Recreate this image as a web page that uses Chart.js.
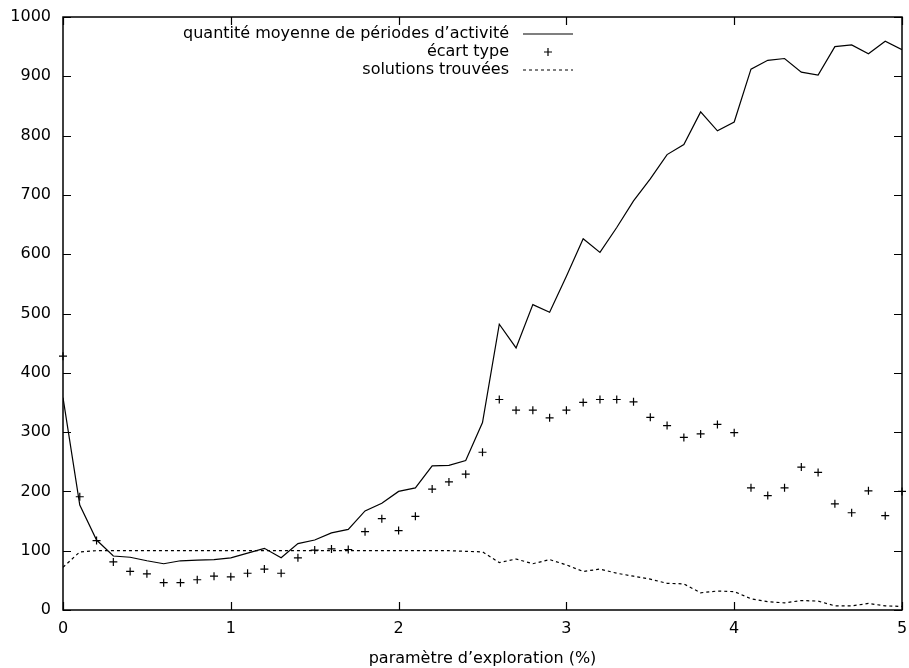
<!DOCTYPE html>
<html>
<head>
<meta charset="utf-8">
<script src="https://cdn.jsdelivr.net/npm/chart.js@4"></script>
<style>
  body { margin: 0; background: #fff; }
  canvas { display: block; }
</style>
</head>
<body>
<canvas id="chart" width="909" height="668"></canvas>
<script>
// === Data ===
const xValues = [
    0, 0.1, 0.2, 0.3, 0.4, 0.5, 0.6, 0.7, 0.8, 0.9,
    1, 1.1, 1.2, 1.3, 1.4, 1.5, 1.6, 1.7, 1.8, 1.9,
    2, 2.1, 2.2, 2.3, 2.4, 2.5, 2.6, 2.7, 2.8, 2.9,
    3, 3.1, 3.2, 3.3, 3.4, 3.5, 3.6, 3.7, 3.8, 3.9,
    4, 4.1, 4.2, 4.3, 4.4, 4.5, 4.6, 4.7, 4.8, 4.9, 5
];
const moyenneValues = [
    358, 177, 118, 91, 89, 83, 78, 83, 84, 85,
    88, 96, 104, 88, 112, 118, 130, 136, 167, 180,
    200, 206, 243, 244, 252, 316, 482, 442, 515, 502,
    563, 626, 603, 645, 690, 727, 768, 785, 840, 808,
    823, 912, 927, 930, 907, 902, 950, 953, 938, 959, 945
];
const ecartValues = [
    428, 191, 117, 81, 65, 61, 46, 46, 51, 57,
    56, 62, 69, 62, 88, 101, 103, 102, 132, 154,
    134, 158, 204, 216, 229, 266, 355, 337, 337, 324,
    337, 350, 355, 355, 351, 325, 311, 291, 297, 313,
    299, 206, 193, 206, 241, 232, 179, 164, 201, 159, 200
];
const solutionsValues = [
    72, 98, 100, 100, 100, 100, 100, 100, 100, 100,
    100, 100, 100, 100, 100, 100, 100, 100, 100, 100,
    100, 100, 100, 100, 99, 98, 80, 86, 78, 85,
    76, 65, 69, 62, 57, 52, 45, 44, 29, 32,
    31, 19, 14, 12, 16, 15, 7, 7, 11, 7, 6
];
const xTicks = [0, 1, 2, 3, 4, 5];
const yTicks = [0, 100, 200, 300, 400, 500, 600, 700, 800, 900, 1000];
const seriesLabels = [
    "quantité moyenne de périodes d’activité",
    "écart type",
    "solutions trouvées"
];
const xTitle = "paramètre d’exploration (%)";

const FONT = "DejaVu Sans";
const FONT_SIZE = 16;

function toPoints(values) {
    return values.map((v, i) => ({ x: xValues[i], y: v }));
}

// gnuplot-like frame: box plus inward ticks on all four sides
const framePlugin = {
    id: "frame",
    afterDatasetsDraw(chart) {
        const ctx = chart.ctx;
        const area = chart.chartArea;
        const xs = chart.scales.x;
        const ys = chart.scales.y;
        const len = 8;
        ctx.save();
        ctx.strokeStyle = "#000";
        ctx.lineWidth = 1.5;
        ctx.strokeRect(area.left, area.top, area.right - area.left, area.bottom - area.top);
        ctx.lineWidth = 1.2;
        ctx.beginPath();
        yTicks.forEach(v => {
            const py = Math.round(ys.getPixelForValue(v)) + 0.5;
            ctx.moveTo(area.left, py); ctx.lineTo(area.left + len, py);
            ctx.moveTo(area.right, py); ctx.lineTo(area.right - len, py);
        });
        xTicks.forEach(v => {
            const px = Math.round(xs.getPixelForValue(v)) + 0.5;
            ctx.moveTo(px, area.bottom); ctx.lineTo(px, area.bottom - len);
            ctx.moveTo(px, area.top); ctx.lineTo(px, area.top + len);
        });
        ctx.stroke();
        ctx.restore();
    }
};

// legend in the top area, text right-aligned with sample on the right
const legendPlugin = {
    id: "insideLegend",
    afterDraw(chart) {
        const ctx = chart.ctx;
        const textRight = 509;
        const sampleL = 523;
        const sampleR = 573;
        const rows = [34, 52, 70];
        ctx.save();
        ctx.font = FONT_SIZE + "px '" + FONT + "'";
        ctx.fillStyle = "#000";
        ctx.textAlign = "right";
        ctx.textBaseline = "middle";
        seriesLabels.forEach((t, i) => ctx.fillText(t, textRight, rows[i]));
        ctx.strokeStyle = "#000";
        ctx.lineWidth = 1.2;
        ctx.beginPath();
        ctx.moveTo(sampleL, rows[0]); ctx.lineTo(sampleR, rows[0]);
        ctx.stroke();
        const cx = (sampleL + sampleR) / 2;
        ctx.beginPath();
        ctx.moveTo(cx - 4, rows[1]); ctx.lineTo(cx + 4, rows[1]);
        ctx.moveTo(cx, rows[1] - 4); ctx.lineTo(cx, rows[1] + 4);
        ctx.stroke();
        ctx.setLineDash([3, 3]);
        ctx.beginPath();
        ctx.moveTo(sampleL, rows[2]); ctx.lineTo(sampleR, rows[2]);
        ctx.stroke();
        ctx.restore();
    }
};

new Chart(document.getElementById("chart"), {
    type: "line",
    data: {
        datasets: [
            {
                label: seriesLabels[0],
                data: toPoints(moyenneValues),
                borderColor: "#000",
                borderWidth: 1.2,
                pointRadius: 0,
                tension: 0,
                fill: false
            },
            {
                label: seriesLabels[1],
                data: toPoints(ecartValues),
                showLine: false,
                pointStyle: "cross",
                pointRadius: 4,
                pointBorderWidth: 1.2,
                pointBorderColor: "#000",
                borderColor: "#000",
                clip: false
            },
            {
                label: seriesLabels[2],
                data: toPoints(solutionsValues),
                borderColor: "#000",
                borderWidth: 1.2,
                borderDash: [3, 3],
                pointRadius: 0,
                tension: 0,
                fill: false
            }
        ]
    },
    options: {
        responsive: false,
        animation: false,
        layout: { padding: { top: 17, right: 7, left: 0, bottom: 0 } },
        plugins: {
            legend: { display: false },
            tooltip: { enabled: false }
        },
        scales: {
            x: {
                type: "linear",
                min: 0,
                max: 5,
                grid: { display: false, drawTicks: false },
                border: { display: false },
                afterBuildTicks: s => { s.ticks = xTicks.map(v => ({ value: v })); },
                afterFit: s => {
                    s.height = 58;
                    s.paddingLeft = 0;
                    s.paddingRight = 0;
                },
                ticks: {
                    color: "#000",
                    padding: 9,
                    maxRotation: 0,
                    callback: v => String(v),
                    font: { family: FONT, size: FONT_SIZE }
                },
                title: {
                    display: true,
                    text: xTitle,
                    color: "#000",
                    font: { family: FONT, size: FONT_SIZE },
                    padding: { top: 0, bottom: 0 }
                }
            },
            y: {
                min: 0,
                max: 1000,
                grid: { display: false, drawTicks: false },
                border: { display: false },
                afterBuildTicks: s => { s.ticks = yTicks.map(v => ({ value: v })); },
                afterFit: s => {
                    s.width = 63;
                    s.paddingTop = 0;
                    s.paddingBottom = 0;
                },
                ticks: {
                    color: "#000",
                    padding: 12,
                    callback: v => String(v),
                    font: { family: FONT, size: FONT_SIZE }
                }
            }
        }
    },
    plugins: [framePlugin, legendPlugin]
});
</script>
</body>
</html>
